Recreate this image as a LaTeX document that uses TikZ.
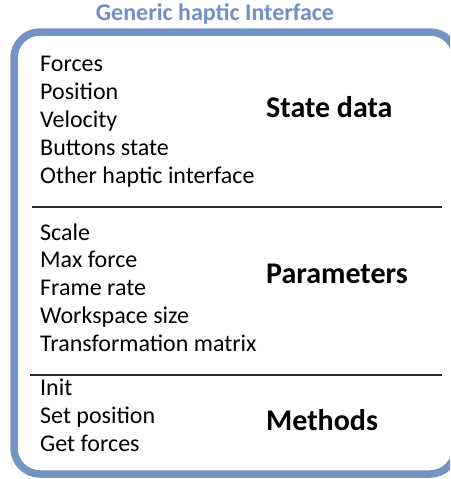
\documentclass[tikz,border=0pt]{standalone}
\usepackage{fontspec}
\setmainfont{Carlito}
\definecolor{frameblue}{RGB}{115,147,196}
\definecolor{titleblue}{RGB}{112,143,200}
\definecolor{sepgray}{RGB}{40,40,40}
\begin{document}
\begin{tikzpicture}[x=1pt,y=-1pt,
  item/.style={anchor=base west,inner sep=0pt,font=\fontsize{24}{28}\selectfont},
  head/.style={anchor=base west,inner sep=0pt,font=\fontsize{30}{34}\selectfont\bfseries},
  sep/.style={draw=sepgray,line width=1.5pt}]
\useasboundingbox (0,0) rectangle (450,479);
\begin{scope}
\clip (0,0) rectangle (450,479);
\draw[frameblue,line width=7.5pt,rounded corners=26pt] (14,32) rectangle (456,474);
\end{scope}
\node[anchor=base,inner sep=0pt,text=titleblue,font=\fontsize{24}{28}\selectfont\bfseries] (title) at (215,20) {Generic haptic Interface};
% state data
\node[item] (f) at (40,71) {Forces};
\node[item] (p) at (40,99) {Position};
\node[item] (v) at (40,127) {Velocity};
\node[item] (b) at (40,155) {Buttons state};
\node[item] (o) at (40,183) {Other haptic interface};
\node[head] (sd) at (266,117) {State data};
\coordinate (s1a) at (32,207);
\coordinate (s1b) at (442,207);
\draw[sep] (s1a) -- (s1b);
% parameters
\node[item] (sc) at (40,240) {Scale};
\node[item] (mf) at (40,267) {Max force};
\node[item] (fr) at (40,295) {Frame rate};
\node[item] (ws) at (40,323) {Workspace size};
\node[item] (tm) at (40,351) {Transformation matrix};
\node[head] (pa) at (266,283) {Parameters};
\coordinate (s2a) at (30,375);
\coordinate (s2b) at (442,375);
\draw[sep] (s2a) -- (s2b);
% methods
\node[item] (in) at (40,395) {Init};
\node[item] (sp) at (40,423) {Set position};
\node[item] (gf) at (40,451) {Get forces};
\node[head] (me) at (266,430) {Methods};
\end{tikzpicture}
\end{document}
